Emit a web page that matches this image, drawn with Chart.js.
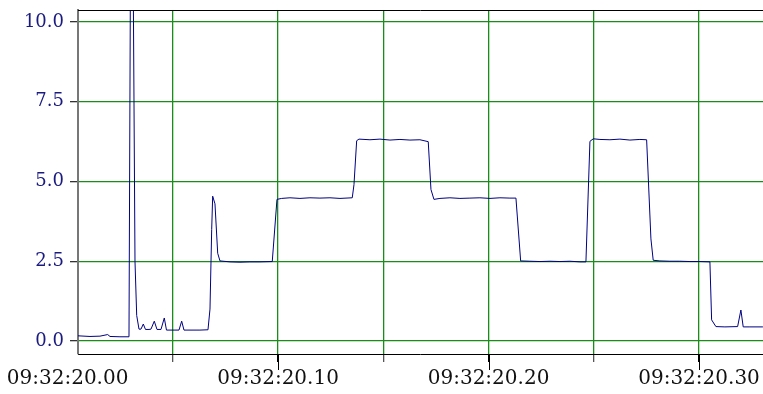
<!DOCTYPE html>
<html>
<head>
<meta charset="utf-8">
<script src="https://cdn.jsdelivr.net/npm/chart.js@4/dist/chart.umd.min.js"></script>
<style>
  html, body { margin: 0; padding: 0; background: #fff; }
  #wrap { width: 763px; height: 394px; }
</style>
</head>
<body>
<div id="wrap"><canvas id="trace" width="763" height="394"></canvas></div>
<script>
// time in ms after 09:32:20.000
const timesMs = [
  4.94, 10.64, 15.39, 19.05, 20.14, 24.89, 29.17, 30.36, 32.02, 32.83,
  33.92, 34.87, 35.96, 37.01, 38.67, 39.62, 41.19, 42.47, 44.37, 45.94,
  46.98, 51.02, 52.92, 54.20, 55.30, 62.90, 66.70, 67.65, 68.46, 68.93,
  70.02, 71.31, 72.40, 77.15, 81.90, 86.65, 91.40, 97.24, 99.48, 101.71,
  105.65, 110.40, 115.15, 119.90, 124.66, 129.41, 135.25, 136.06, 137.34, 138.43,
  143.66, 148.41, 153.16, 157.91, 162.66, 167.41, 171.35, 172.64, 174.06, 176.91,
  181.66, 186.41, 191.16, 195.91, 200.67, 205.42, 210.17, 213.02, 215.25, 219.67,
  224.42, 229.17, 233.92, 238.67, 243.42, 246.27, 248.17, 249.74, 252.92, 257.67,
  262.43, 267.17, 271.92, 275.11, 277.15, 278.24, 281.42, 286.18, 290.93, 295.68,
  300.43, 305.18, 305.99, 308.03, 312.31, 318.34, 319.90, 321.00, 324.18, 330.36
];
const values = [
  0.16, 0.14, 0.15, 0.20, 0.14, 0.13, 0.13, 20.0, 2.50, 0.80,
  0.37, 0.37, 0.53, 0.36, 0.36, 0.37, 0.62, 0.36, 0.36, 0.72,
  0.34, 0.34, 0.34, 0.62, 0.34, 0.34, 0.35, 1.00, 3.50, 4.54,
  4.30, 2.75, 2.51, 2.48, 2.47, 2.48, 2.48, 2.49, 4.44, 4.47,
  4.49, 4.47, 4.49, 4.48, 4.49, 4.47, 4.49, 4.90, 6.28, 6.33,
  6.31, 6.33, 6.30, 6.32, 6.30, 6.31, 6.25, 4.75, 4.44, 4.47,
  4.49, 4.47, 4.48, 4.49, 4.47, 4.49, 4.48, 4.48, 2.51, 2.50,
  2.49, 2.50, 2.49, 2.50, 2.48, 2.48, 6.26, 6.34, 6.32, 6.31,
  6.33, 6.30, 6.32, 6.31, 3.20, 2.53, 2.51, 2.50, 2.50, 2.49,
  2.49, 2.48, 0.66, 0.45, 0.44, 0.45, 0.97, 0.44, 0.44, 0.44
];
const xTicks = [0, 50, 100, 150, 200, 250, 300];
const yTicks = [0, 2.5, 5, 7.5, 10];

const points = timesMs.map((t, i) => ({ x: t, y: values[i] }));
const clear = 'rgba(0,0,0,0)';
const gridGreen = 'rgb(25,140,25)';

function timeLabel(v) {
  if (v % 100 !== 0) return '';
  return '09:32:20.' + String(v / 10).padStart(2, '0');
}

// top frame line + longer marks for labelled time ticks
const frame = {
  id: 'frame',
  afterDraw(chart) {
    const ctx = chart.ctx;
    const a = chart.chartArea;
    const xs = chart.scales.x;
    ctx.save();
    ctx.strokeStyle = '#000';
    ctx.lineWidth = 1;
    ctx.beginPath();
    ctx.moveTo(a.left, a.top + 0.5);
    ctx.lineTo(a.right, a.top + 0.5);
    xTicks.forEach(v => {
      if (v === 0 || v % 100 !== 0) return;
      const px = Math.round(xs.getPixelForValue(v)) + 0.5;
      ctx.moveTo(px, a.bottom);
      ctx.lineTo(px, a.bottom + 16);
    });
    ctx.stroke();
    ctx.restore();
  }
};

new Chart(document.getElementById('trace'), {
  type: 'line',
  data: {
    datasets: [{
      data: points,
      borderColor: '#000080',
      borderWidth: 1,
      pointRadius: 0,
      tension: 0,
      fill: false
    }]
  },
  options: {
    responsive: false,
    animation: false,
    devicePixelRatio: 1,
    layout: { padding: { top: 10, left: 0, right: 0, bottom: 0 } },
    plugins: { legend: { display: false }, tooltip: { enabled: false } },
    scales: {
      x: {
        type: 'linear',
        bounds: 'data',
        min: 4.94,
        max: 330.4,
        afterBuildTicks: s => { s.ticks = xTicks.map(v => ({ value: v })); },
        afterFit: s => { s.height = 40; s.paddingLeft = 0; s.paddingRight = 0; },
        grid: {
          color: c => c.tick && c.tick.value === 0 ? clear : gridGreen,
          tickColor: c => c.tick && c.tick.value === 0 ? clear : (c.tick.value % 100 === 0 ? '#000' : '#555'),
          tickLength: 8,
          lineWidth: 1.3
        },
        border: { color: '#000', width: 1 },
        ticks: {
          autoSkip: false,
          maxRotation: 0,
          padding: 5,
          color: '#111',
          font: { family: 'DejaVu Serif', size: 20 },
          callback: v => timeLabel(v)
        }
      },
      y: {
        bounds: 'data',
        min: -0.41,
        max: 10.38,
        afterBuildTicks: s => { s.ticks = yTicks.map(v => ({ value: v })); },
        afterFit: s => { s.width = 78; s.paddingTop = 0; s.paddingBottom = 0; },
        grid: { color: gridGreen, tickColor: '#333', tickLength: 8, lineWidth: 1.3 },
        border: { color: '#777', width: 2 },
        ticks: {
          padding: 6,
          color: '#1a1a80',
          font: { family: 'DejaVu Serif', size: 18 },
          callback: v => v.toFixed(1)
        }
      }
    }
  },
  plugins: [frame]
});
</script>
</body>
</html>
